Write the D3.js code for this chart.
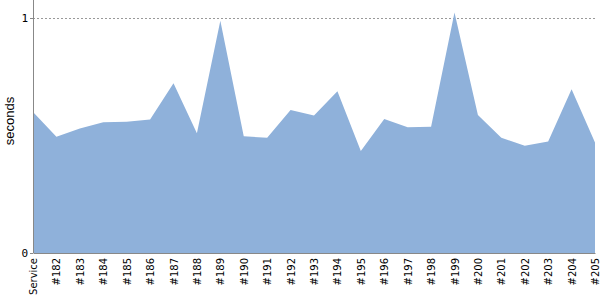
<!DOCTYPE html>
<html lang="en">
<head>
<meta charset="UTF-8">
<title>seconds</title>
<script src="https://d3js.org/d3.v7.min.js"></script>
<style>
    body { margin: 0; background: #fff; }
    text { font-family: "DejaVu Sans", sans-serif; }
</style>
</head>
<body>
<div id="chart"></div>
<script>

    // categories and values (seconds)
    var labels = ["Service", "#182", "#183", "#184", "#185", "#186", "#187", "#188", "#189", "#190",
        "#191", "#192", "#193", "#194", "#195", "#196", "#197", "#198", "#199", "#200",
        "#201", "#202", "#203", "#204", "#205"];
    var values = [0.60, 0.495, 0.530, 0.556, 0.558, 0.568, 0.722, 0.510, 0.988, 0.497,
        0.490, 0.609, 0.585, 0.688, 0.434, 0.570, 0.535, 0.537, 1.023, 0.587,
        0.490, 0.456, 0.474, 0.697, 0.470];
    var yTicks = [0, 1];

    var width = 600, height = 300;
    var margin = { top: 18, right: 5, bottom: 47, left: 33 };

    var svg = d3.select("#chart").append("svg")
        .attr("width", width)
        .attr("height", height);

    var x = d3.scalePoint()
        .domain(labels)
        .range([margin.left, width - margin.right]);

    var y = d3.scaleLinear()
        .domain([0, 1])
        .range([height - margin.bottom, margin.top]);

    // gridline at 1
    svg.append("line")
        .attr("x1", margin.left).attr("x2", width - margin.right)
        .attr("y1", y(1) + 0.5).attr("y2", y(1) + 0.5)
        .attr("stroke", "#999")
        .attr("stroke-width", 1)
        .attr("stroke-dasharray", "2,2");

    // area
    var area = d3.area()
        .x(function (d, i) { return x(labels[i]); })
        .y0(y(0))
        .y1(function (d) { return y(d); });

    svg.append("path")
        .datum(values)
        .attr("d", area)
        .attr("fill", "#8fb1da");

    // y axis
    var yAxis = svg.append("g")
        .attr("transform", "translate(" + margin.left + ",0)")
        .call(d3.axisLeft(y).tickValues(yTicks).tickFormat(d3.format("d")).tickSizeOuter(0).tickSize(3).tickPadding(2));
    yAxis.select(".domain").attr("stroke", "#888").attr("d", "M0.5,0V" + y(0));
    yAxis.selectAll(".tick line").attr("stroke", "#888");
    yAxis.selectAll(".tick text")
        .style("font-family", "'DejaVu Sans Mono', monospace")
        .style("font-size", "11px")
        .attr("fill", "#000");

    // x axis
    var xAxis = svg.append("g")
        .attr("transform", "translate(0," + y(0) + ")")
        .call(d3.axisBottom(x).tickSize(0).tickSizeOuter(0));
    xAxis.select(".domain").attr("stroke", "#888");
    xAxis.selectAll(".tick text")
        .style("font-size", "10px")
        .attr("fill", "#000")
        .attr("text-anchor", "end")
        .attr("transform", "rotate(-90)")
        .attr("x", -5)
        .attr("y", 0)
        .attr("dy", "0.35em");

    // y axis title
    svg.append("text")
        .attr("transform", "rotate(-90)")
        .attr("x", -121)
        .attr("y", 14)
        .attr("text-anchor", "middle")
        .style("font-family", "'Liberation Sans', Arial, sans-serif")
        .style("font-size", "13px")
        .attr("fill", "#000")
        .text("seconds");

</script>
</body>
</html>
